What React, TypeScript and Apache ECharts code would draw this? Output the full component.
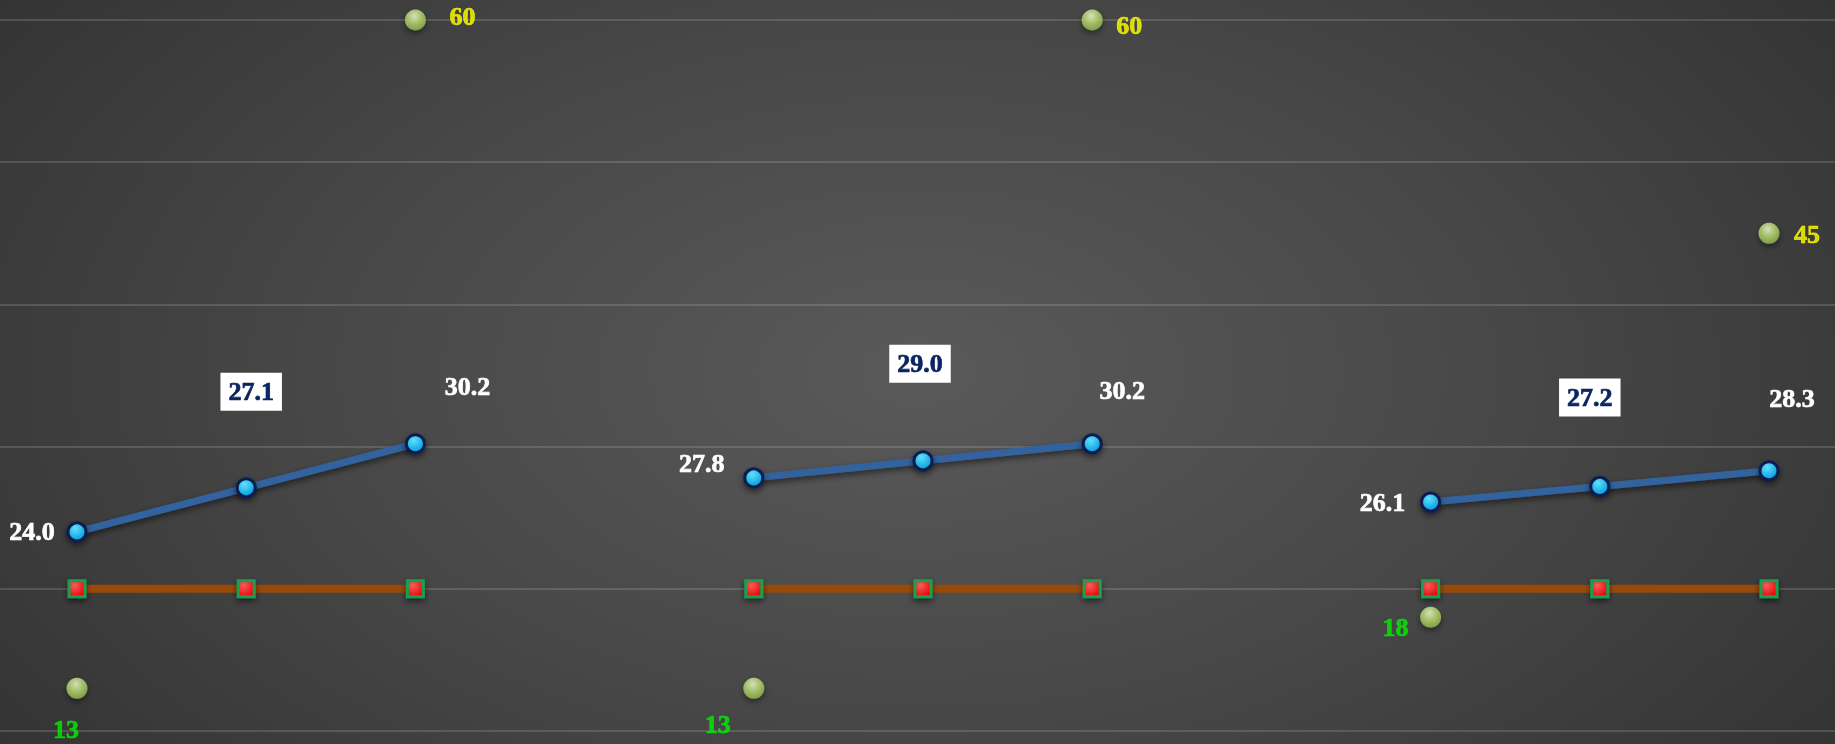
import React, { useEffect, useRef } from "react";
import * as echarts from "echarts";

const categories = ["1", "2", "3", "4", "5", "6", "7", "8", "9", "10", "11"];
const lineAValues: (number | null)[] = [24.0, 27.1, 30.2, null, 27.8, 29.0, 30.2, null, 26.1, 27.2, 28.3];
const lineBValues: (number | null)[] = [20, 20, 20, null, 20, 20, 20, null, 20, 20, 20];
const dotValues: (number | null)[] = [13, null, 60, null, 13, null, 60, null, 18, null, 45];
const yTicks = [10, 20, 30, 40, 50, 60];

// label nudges (pixels, relative to the mark centre) — styling only
const lineALabelNudge: number[][] = [
  [-45, 0], [5, -96], [52, -57], [0, 0],
  [-52, -14], [-3, -97], [30, -53], [0, 0],
  [-48, 0], [-10, -89], [23, -72],
];
const dotLabelNudge: number[][] = [
  [-11, 41], [0, 0], [47, -4], [0, 0],
  [-36, 36], [0, 0], [37, 5], [0, 0],
  [-35, 10], [0, 0], [38, 1],
];

const FONT = "'Liberation Serif', 'Times New Roman', serif";

export default function App() {
  const ref = useRef<HTMLDivElement>(null);
  useEffect(() => {
    document.body.style.margin = "0";
    const chart = echarts.init(ref.current!, undefined, { renderer: "svg" });

    const blueItem = (v: number | null, i: number) => {
      if (v === null) return "-";
      const k = i % 4;
      const base = {
        show: true,
        position: "inside",
        fontFamily: FONT,
        fontWeight: "bold",
        fontSize: 26,
        color: "#ffffff",
        textBorderColor: "#ffffff",
        textBorderWidth: 0.7,
        offset: lineALabelNudge[i],
        formatter: (p: any) => Number(p.value).toFixed(1),
      };
      const label: any =
        k === 1
          ? {
              ...base,
              color: "#0c2461",
              textBorderColor: "#0c2461",
              backgroundColor: "#ffffff",
              padding: [7, 8, 5, 8],
              lineHeight: 26,
            }
          : base;
      return { value: v, label };
    };

    const dotItem = (v: number | null, i: number) => {
      if (v === null) return "-";
      const high = v >= 30;
      const c = high ? "#ffff00" : "#00ee00";
      return {
        value: v,
        label: {
          show: true,
          position: "inside",
          fontFamily: FONT,
          fontWeight: "bold",
          fontSize: 26,
          color: c,
          textBorderColor: c,
          textBorderWidth: 0.7,
          offset: dotLabelNudge[i],
          formatter: "{c}",
        },
      };
    };

    const shadow = { shadowBlur: 6, shadowColor: "rgba(0,0,0,0.55)", shadowOffsetY: 3 };

    chart.setOption({
      animation: false,
      backgroundColor: "transparent",
      grid: [
        { left: 0, right: 0, top: 20, bottom: 13 },
        { left: 77, right: 66, top: 20, bottom: 13 },
      ],
      xAxis: [
        { type: "category", gridIndex: 0, data: categories, show: false },
        { type: "category", gridIndex: 1, data: categories, boundaryGap: false, show: false },
      ],
      yAxis: [
        {
          type: "value",
          gridIndex: 0,
          min: yTicks[0],
          max: yTicks[yTicks.length - 1],
          interval: 10,
          axisLabel: { show: false },
          axisLine: { show: false },
          axisTick: { show: false },
          splitLine: { show: true, lineStyle: { color: "rgba(255,255,255,0.14)", width: 2 } },
        },
        {
          type: "value",
          gridIndex: 1,
          min: yTicks[0],
          max: yTicks[yTicks.length - 1],
          interval: 10,
          axisLabel: { show: false },
          axisLine: { show: false },
          axisTick: { show: false },
          splitLine: { show: false },
        },
      ],
      series: [
        {
          type: "line",
          xAxisIndex: 1,
          yAxisIndex: 1,
          data: lineBValues.map((v) => (v === null ? "-" : v)),
          symbol: "rect",
          symbolSize: 16,
          z: 2,
          lineStyle: { color: "#9a4a08", width: 8 },
          itemStyle: {
            color: new echarts.graphic.RadialGradient(0.35, 0.3, 0.8, [
              { offset: 0, color: "#ff5a5a" },
              { offset: 1, color: "#e00000" },
            ]),
            borderColor: "#17a050",
            borderWidth: 3,
            ...shadow,
          },
        },
        {
          type: "line",
          xAxisIndex: 1,
          yAxisIndex: 1,
          data: lineAValues.map(blueItem),
          symbol: "circle",
          symbolSize: 18,
          z: 3,
          lineStyle: { color: "#33639e", width: 7, ...shadow },
          itemStyle: {
            color: new echarts.graphic.RadialGradient(0.4, 0.3, 0.75, [
              { offset: 0, color: "#5fe0ff" },
              { offset: 1, color: "#0096d8" },
            ]),
            borderColor: "#0a1f4f",
            borderWidth: 3,
            ...shadow,
          },
        },
        {
          type: "scatter",
          xAxisIndex: 1,
          yAxisIndex: 1,
          data: dotValues.map(dotItem),
          symbol: "circle",
          symbolSize: 21,
          z: 4,
          itemStyle: {
            color: new echarts.graphic.RadialGradient(0.45, 0.3, 0.75, [
              { offset: 0, color: "#f4ffd6" },
              { offset: 0.45, color: "#bcdc74" },
              { offset: 1, color: "#8cab46" },
            ]),
            ...shadow,
          },
        },
      ],
    });
    return () => chart.dispose();
  }, []);

  return (
    <div
      ref={ref}
      style={{
        position: "fixed",
        left: 0,
        top: 0,
        width: 1835,
        height: 744,
        background:
          "radial-gradient(ellipse 70% 100% at 50% 50%, #5a5a5a 0%, #484848 45%, #2e2e2e 100%)",
      }}
    />
  );
}
